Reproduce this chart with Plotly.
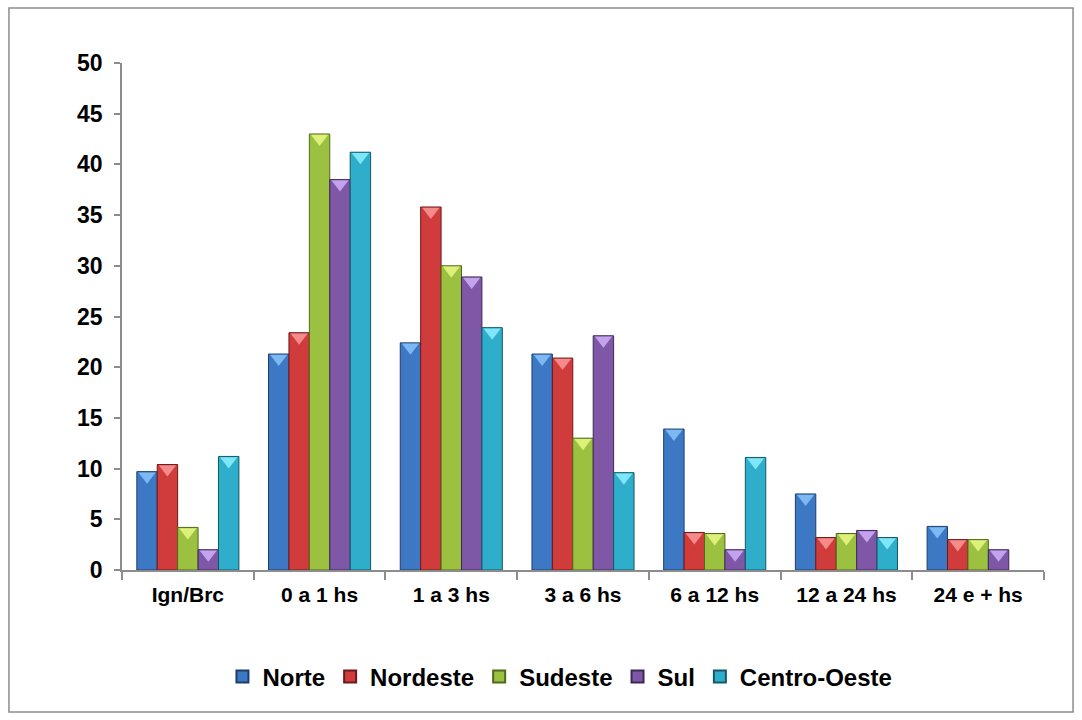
import plotly.graph_objects as go

# Time-interval categories and regional percentages
categories = ["Ign/Brc", "0 a 1 hs", "1 a 3 hs", "3 a 6 hs", "6 a 12 hs", "12 a 24 hs", "24 e + hs"]
norte = [9.7, 21.3, 22.4, 21.3, 13.9, 7.5, 4.3]
nordeste = [10.4, 23.4, 35.8, 20.9, 3.7, 3.2, 3.0]
sudeste = [4.2, 43.0, 30.0, 13.0, 3.6, 3.6, 3.0]
sul = [2.0, 38.5, 28.9, 23.1, 2.0, 3.9, 2.0]
centro_oeste = [11.2, 41.2, 23.9, 9.6, 11.1, 3.2, None]
y_ticks = [0, 5, 10, 15, 20, 25, 30, 35, 40, 45, 50]

series = [
    ("Norte", norte, "#3C78C3", "#1E3F6B", "#7DB8F2"),
    ("Nordeste", nordeste, "#D03C3C", "#6B1A1A", "#F58A8A"),
    ("Sudeste", sudeste, "#9CC03F", "#4F6A1A", "#DDF07A"),
    ("Sul", sul, "#7E58A6", "#3E2857", "#C3A2EE"),
    ("Centro-Oeste", centro_oeste, "#2FAECB", "#135868", "#7EE6F7"),
]

FONT = "Liberation Sans, Arial, sans-serif"
BAR_W = 0.155
PX_PER_UNIT = 507 / 50  # vertical pixels per percentage point
n = len(series)

fig = go.Figure()
for k, (name, vals, col, edge, tip) in enumerate(series):
    xs = [i + (k - (n - 1) / 2) * BAR_W for i in range(len(categories))]
    fig.add_trace(go.Bar(
        x=xs, y=vals, width=BAR_W, name=name,
        marker=dict(color=col, line=dict(color=edge, width=1)),
        hoverinfo="y+name",
    ))
    # bevelled cap at the top of each bar
    fig.add_trace(go.Scatter(
        x=xs,
        y=[v - 4.5 / PX_PER_UNIT if v else None for v in vals],
        mode="markers", showlegend=False, hoverinfo="skip",
        marker=dict(symbol="triangle-down", size=15, color=tip,
                    line=dict(width=0)),
    ))

fig.update_layout(
    width=1082, height=720,
    margin=dict(l=122, r=38, t=63, b=150),
    paper_bgcolor="white", plot_bgcolor="white",
    barmode="overlay",
    font=dict(family=FONT, color="black"),
    legend=dict(
        orientation="h", x=0.475, xanchor="center", y=-0.211, yanchor="middle",
        font=dict(size=24, family=FONT, color="black", weight="bold"),
        itemwidth=30, itemsizing="constant", traceorder="normal",
    ),
    xaxis=dict(
        range=[-0.5, len(categories) - 0.5],
        tickvals=list(range(len(categories))), ticktext=categories,
        ticks="", showgrid=False, zeroline=False,
        ticklabelstandoff=5,
        showline=True, linecolor="#8C8C8C", linewidth=1.5,
        tickfont=dict(size=21, family=FONT, color="black", weight="bold"),
        minor=dict(tickvals=[i - 0.5 for i in range(len(categories) + 1)],
                   ticks="outside", ticklen=8, tickcolor="#8C8C8C", tickwidth=1.5),
        fixedrange=True,
    ),
    yaxis=dict(
        range=[0, 50], tickvals=y_ticks,
        ticks="outside", ticklen=6, tickcolor="#8C8C8C", tickwidth=1.5,
        ticklabelstandoff=7,
        showgrid=False, zeroline=False,
        showline=True, linecolor="#8C8C8C", linewidth=1.5,
        tickfont=dict(size=23, family=FONT, color="black", weight="bold"),
        fixedrange=True,
    ),
    shapes=[dict(
        type="rect", xref="paper", yref="paper",
        x0=-0.1226, x1=1.0315, y0=-0.280, y1=1.1085,
        line=dict(color="#8C8C8C", width=1.5), fillcolor="rgba(0,0,0,0)",
        layer="below",
    )],
)

fig.write_html("out.html")
